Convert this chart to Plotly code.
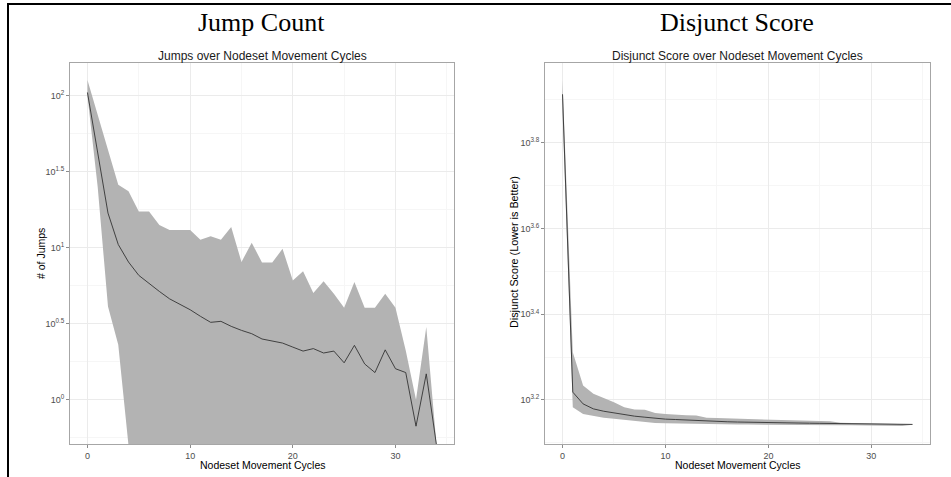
import plotly.graph_objects as go

W, H = 951, 477

# ---------------- data ----------------
cycles = list(range(35))

jumps_mean = [105, 43, 16.9, 10.5, 8.05, 6.58, 5.79, 5.16, 4.61, 4.27, 3.91, 3.54, 3.23, 3.28,
              3.04, 2.86, 2.72, 2.51, 2.42, 2.36, 2.22, 2.09, 2.17, 2.03, 2.09, 1.75, 2.28, 1.72,
              1.51, 2.13, 1.60, 1.51, 0.67, 1.48, 0.50]
jumps_upper = [126.8, 74, 44, 26, 23.5, 17.3, 17.3, 14.1, 13.1, 13.1, 13.1, 11.3, 11.9, 11.3,
               13.7, 8.05, 10.8, 7.98, 7.98, 9.84, 6.09, 6.99, 5.04, 6.01, 4.98, 4.03, 5.96, 4.03,
               4.03, 4.98, 4.03, 2.11, 1.0, 3.01, 0.50]
jumps_lower = [100, 25, 4.1, 2.3, 0.5, 0.5, 0.5, 0.5, 0.5, 0.5, 0.5, 0.5, 0.5, 0.5,
               0.5, 0.5, 0.5, 0.5, 0.5, 0.5, 0.5, 0.5, 0.5, 0.5, 0.5, 0.5, 0.5, 0.5,
               0.5, 0.5, 0.5, 0.5, 0.5, 0.5, 0.5]

score_mean = [8185, 1652, 1551, 1510, 1491, 1478, 1462, 1452, 1444, 1435, 1429, 1426, 1422, 1419,
              1413, 1411, 1409, 1407, 1405, 1404, 1402, 1401, 1400, 1399, 1398, 1397, 1396, 1394,
              1393, 1392, 1390, 1389, 1388, 1388, 1389]
score_upper = [8831, 2046, 1712, 1637, 1600, 1565, 1524, 1505, 1502, 1476, 1469, 1462, 1459, 1457,
               1439, 1437, 1435, 1434, 1432, 1430, 1424, 1422, 1420, 1418, 1416, 1414, 1412, 1402,
               1400, 1398, 1396, 1394, 1392, 1390, 1391]
score_lower = [7447, 1524, 1469, 1452, 1439, 1431, 1422, 1413, 1406, 1400, 1398, 1396, 1395, 1394,
               1390, 1390, 1389, 1389, 1388, 1388, 1387, 1386, 1386, 1385, 1384, 1384, 1383, 1383,
               1382, 1381, 1380, 1379, 1376, 1377, 1386]

x_ticks = [0, 10, 20, 30]
x_minor = [5, 15, 25, 35]
jump_ticks = [1, 10 ** 0.5, 10, 10 ** 1.5, 100]
jump_ticktext = ["10<sup>0</sup>", "10<sup>0.5</sup>", "10<sup>1</sup>", "10<sup>1.5</sup>", "10<sup>2</sup>"]
jump_minor = [10 ** -0.25, 10 ** 0.25, 10 ** 0.75, 10 ** 1.25, 10 ** 1.75]
score_ticks = [10 ** 3.2, 10 ** 3.4, 10 ** 3.6, 10 ** 3.8]
score_ticktext = ["10<sup>3.2</sup>", "10<sup>3.4</sup>", "10<sup>3.6</sup>", "10<sup>3.8</sup>"]
score_minor = [10 ** 3.1, 10 ** 3.3, 10 ** 3.5, 10 ** 3.7, 10 ** 3.9]

# ---------------- style ----------------
RIBBON = "#B3B3B3"
LINE = "#333333"
SANS = "Liberation Sans, Arial, sans-serif"
SERIF = "Liberation Serif, Times New Roman, serif"

fig = go.Figure()


def add_panel(xa, ya, lower, upper, mean):
    fig.add_trace(go.Scatter(x=cycles, y=lower, mode="lines", line=dict(width=0, color=RIBBON),
                             xaxis=xa, yaxis=ya, showlegend=False, hoverinfo="skip"))
    fig.add_trace(go.Scatter(x=cycles, y=upper, mode="lines", line=dict(width=0, color=RIBBON),
                             fill="tonexty", fillcolor=RIBBON, xaxis=xa, yaxis=ya,
                             showlegend=False, hoverinfo="skip"))
    fig.add_trace(go.Scatter(x=cycles, y=mean, mode="lines", line=dict(width=0.9, color=LINE),
                             xaxis=xa, yaxis=ya, showlegend=False))


add_panel("x", "y", jumps_lower, jumps_upper, jumps_mean)
add_panel("x2", "y2", score_lower, score_upper, score_mean)


def px_x(p):
    return p / W


def px_y(p):
    return 1 - p / H


common_axis = dict(
    showline=True, mirror=True, linecolor="#A6A6A6", linewidth=1,
    ticks="outside", ticklen=3, tickcolor="#8C8C8C", tickwidth=1,
    tickfont=dict(family=SANS, size=9, color="#4D4D4D"),
    showgrid=True, gridcolor="#EBEBEB", gridwidth=1, zeroline=False,
)

ydom = [px_y(444), px_y(63)]

fig.update_layout(
    width=W, height=H,
    margin=dict(l=0, r=0, t=0, b=0),
    paper_bgcolor="white", plot_bgcolor="white",
    xaxis=dict(domain=[px_x(70), px_x(454)], range=[-1.7, 35.7], tickvals=x_ticks,
               minor=dict(tickvals=x_minor, showgrid=True, gridcolor="#F6F6F6", ticks=""),
               anchor="y", **common_axis),
    yaxis=dict(domain=ydom, type="log", range=[-0.291, 2.215], tickvals=jump_ticks,
               ticktext=jump_ticktext,
               minor=dict(tickvals=jump_minor, showgrid=True, gridcolor="#F6F6F6", ticks=""),
               anchor="x", **common_axis),
    xaxis2=dict(domain=[px_x(545), px_x(930)], range=[-1.7, 35.7], tickvals=x_ticks,
                minor=dict(tickvals=x_minor, showgrid=True, gridcolor="#F6F6F6", ticks=""),
                anchor="y2", **common_axis),
    yaxis2=dict(domain=ydom, type="log", range=[3.097, 3.986], tickvals=score_ticks,
                ticktext=score_ticktext,
                minor=dict(tickvals=score_minor, showgrid=True, gridcolor="#F6F6F6", ticks=""),
                anchor="x2", **common_axis),
)

ann = []


def text(s, x, y, size, family=SANS, color="black", angle=0):
    ann.append(dict(text=s, x=px_x(x), y=px_y(y), xref="paper", yref="paper",
                    xanchor="center", yanchor="middle", showarrow=False, textangle=angle,
                    font=dict(family=family, size=size, color=color)))


text("Jump Count", 261, 22, 26, family=SERIF)
text("Disjunct Score", 737, 22, 26, family=SERIF)
text("Jumps over Nodeset Movement Cycles", 262, 56, 12, color="#1A1A1A")
text("Disjunct Score over Nodeset Movement Cycles", 737, 56, 12, color="#1A1A1A")
text("Nodeset Movement Cycles", 262, 465, 10.5)
text("Nodeset Movement Cycles", 737, 465, 10.5)
text("# of Jumps", 41, 254, 10.5, angle=-90)
text("Disjunct Score (Lower is Better)", 514, 252, 10.8, angle=-90)

fig.update_layout(annotations=ann)

# black frame (top and left edges)
fig.add_shape(type="rect", xref="paper", yref="paper", x0=px_x(7), x1=1, y0=px_y(5), y1=px_y(3),
              fillcolor="black", line=dict(width=0), layer="above")
fig.add_shape(type="rect", xref="paper", yref="paper", x0=px_x(7), x1=px_x(9), y0=0, y1=px_y(3),
              fillcolor="black", line=dict(width=0), layer="above")

fig.write_html("out.html", config={"displayModeBar": False},
               post_script="document.body.style.margin='0px';document.body.style.overflow='hidden';")
